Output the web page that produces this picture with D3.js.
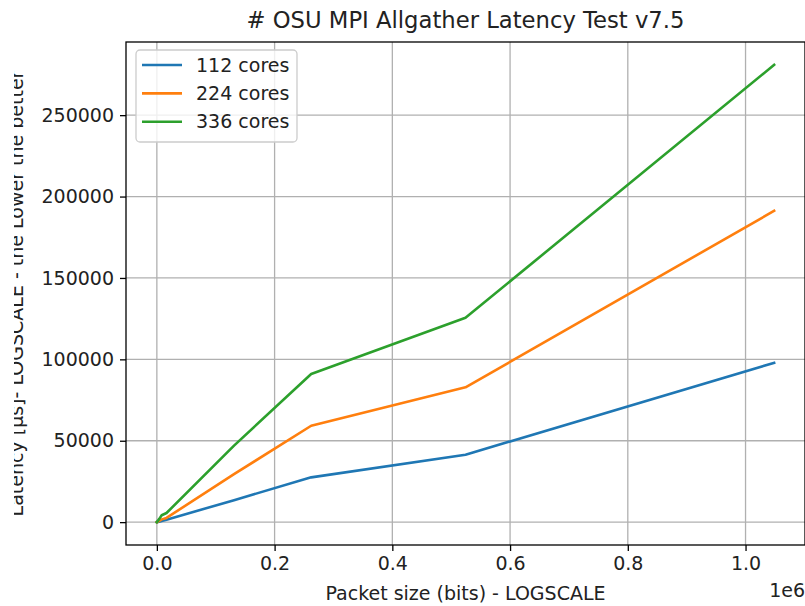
<!DOCTYPE html>
<html>
<head>
<meta charset="utf-8">
<script src="https://cdn.jsdelivr.net/npm/d3@7"></script>
<style>
  body { margin: 0; background: #fff; overflow: hidden; }
  svg { display: block; font-family: "DejaVu Sans", sans-serif; }
  .grid line { stroke: #b0b0b0; stroke-width: 1.3px; }
  .axis line { stroke: #000; stroke-width: 1.3px; }
  .axis text { font-size: 19px; fill: #222; font-family: "DejaVu Sans", sans-serif; }
</style>
</head>
<body>
<div id="chart"></div>
<script>
var width = 805,
  height = 606;

// packet sizes (bits)
var sizes = [1, 4096, 8192, 16384, 131072, 262144, 524288, 1048576];
var cores112 = [0, 300, 700, 1500, 13500, 27500, 41400, 97900];
var cores224 = [0, 800, 1700, 2600, 29500, 59200, 82800, 191200];
var cores336 = [0, 2000, 4200, 5600, 47000, 91000, 125500, 280900];

var seriesNames = ["112 cores", "224 cores", "336 cores"];
var seriesColors = ["#1f77b4", "#ff7f0e", "#2ca02c"];
var xTicks = [0, 200000, 400000, 600000, 800000, 1000000];
var yTicks = [0, 50000, 100000, 150000, 200000, 250000];

var series = [cores112, cores224, cores336];

// plot box (window.top is reserved, so use other names)
var plotLeft = 126, plotRight = 805, plotTop = 42, plotBottom = 545;

var svg = d3.select("#chart").append("svg")
  .attr("width", width)
  .attr("height", height);

// matplotlib style 5% margins
var xmin = 0, xmax = d3.max(sizes);
var ymin = d3.min(series, function(s) { return d3.min(s); }),
  ymax = d3.max(series, function(s) { return d3.max(s); });
var xm = (xmax - xmin) * 0.05, ym = (ymax - ymin) * 0.05;

var x = d3.scaleLinear().domain([xmin - xm, xmax + xm]).range([plotLeft, plotRight]);
var y = d3.scaleLinear().domain([ymin - ym, ymax + ym]).range([plotBottom, plotTop]);

// grid
var grid = svg.append("g").attr("class", "grid");
grid.selectAll("line.v").data(xTicks).enter().append("line")
  .attr("class", "v")
  .attr("x1", function(d) { return x(d); })
  .attr("x2", function(d) { return x(d); })
  .attr("y1", plotTop).attr("y2", plotBottom);
grid.selectAll("line.h").data(yTicks).enter().append("line")
  .attr("class", "h")
  .attr("y1", function(d) { return y(d); })
  .attr("y2", function(d) { return y(d); })
  .attr("x1", plotLeft).attr("x2", plotRight);

// lines
var line = d3.line()
  .x(function(d, i) { return x(sizes[i]); })
  .y(function(d) { return y(d); });

svg.selectAll("path.series").data(series).enter().append("path")
  .attr("class", "series")
  .attr("fill", "none")
  .attr("stroke", function(d, i) { return seriesColors[i]; })
  .attr("stroke-width", 2.6)
  .attr("stroke-linejoin", "round")
  .attr("stroke-linecap", "square")
  .attr("d", line);

// spines
svg.append("rect")
  .attr("x", plotLeft).attr("y", plotTop)
  .attr("width", plotRight - plotLeft).attr("height", plotBottom - plotTop)
  .attr("fill", "none").attr("stroke", "#000").attr("stroke-width", 1.3);

// axes
svg.append("g")
  .attr("class", "axis")
  .attr("transform", "translate(0," + plotBottom + ")")
  .call(d3.axisBottom(x).tickValues(xTicks).tickSize(6).tickPadding(6)
    .tickFormat(function(d) { return (d / 1e6).toFixed(1); }))
  .call(function(g) { g.select(".domain").remove(); });

svg.append("g")
  .attr("class", "axis")
  .attr("transform", "translate(" + plotLeft + ",0)")
  .call(d3.axisLeft(y).tickValues(yTicks).tickSize(6).tickPadding(6)
    .tickFormat(d3.format("d")))
  .call(function(g) { g.select(".domain").remove(); });

// title and labels
svg.append("text")
  .attr("x", (plotLeft + plotRight) / 2).attr("y", 28)
  .attr("text-anchor", "middle")
  .style("font-size", "22.7px").style("fill", "#222")
  .text("# OSU MPI Allgather Latency Test v7.5");

svg.append("text")
  .attr("x", (plotLeft + plotRight) / 2).attr("y", 600)
  .attr("text-anchor", "middle")
  .style("font-size", "19px").style("fill", "#222")
  .text("Packet size (bits) - LOGSCALE");

svg.append("text")
  .attr("x", 805).attr("y", 597)
  .attr("text-anchor", "end")
  .style("font-size", "19px").style("fill", "#222")
  .text("1e6");

// the source image crops the top of the y label
svg.append("clipPath").attr("id", "ylabclip")
  .append("rect").attr("x", 14).attr("y", 0).attr("width", 40).attr("height", height);

svg.append("g").attr("clip-path", "url(#ylabclip)")
  .append("text")
  .attr("transform", "translate(23," + (plotTop + plotBottom) / 2 + ") rotate(-90)")
  .attr("text-anchor", "middle")
  .style("font-size", "19px").style("fill", "#222")
  .text("Latency [µs]- LOGSCALE - the Lower the better");

// legend
var legend = svg.append("g").attr("transform", "translate(136,50)");
legend.append("rect")
  .attr("width", 161).attr("height", 92)
  .attr("rx", 4).attr("ry", 4)
  .attr("fill", "#fff").attr("fill-opacity", 0.8)
  .attr("stroke", "#cccccc").attr("stroke-width", 1.3);

var item = legend.selectAll("g.item").data(seriesNames).enter().append("g")
  .attr("class", "item")
  .attr("transform", function(d, i) { return "translate(0," + (15 + i * 28.4) + ")"; });
item.append("line")
  .attr("x1", 6).attr("x2", 46)
  .attr("stroke", function(d, i) { return seriesColors[i]; })
  .attr("stroke-width", 2.6);
item.append("text")
  .attr("x", 60).attr("dy", "0.35em")
  .style("font-size", "19px").style("fill", "#222")
  .text(function(d) { return d; });
</script>
</body>
</html>
